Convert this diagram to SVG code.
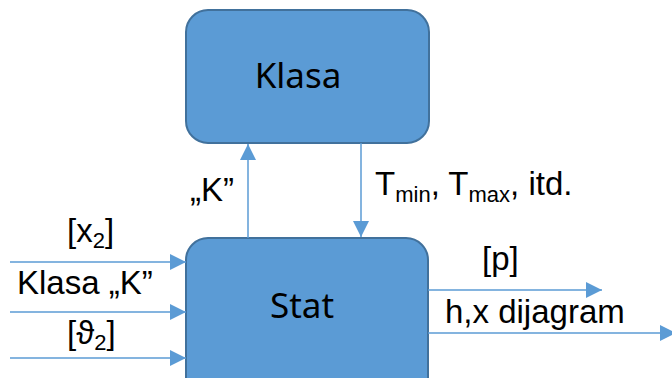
<svg xmlns="http://www.w3.org/2000/svg" width="672" height="378" viewBox="0 0 672 378">
<style>
.box{fill:#5B9BD5;stroke:#41719C;stroke-width:2}
.big{font-family:"Noto Sans","Open Sans",sans-serif;font-size:35px;fill:#000}
.lbl{font-family:"Liberation Sans",Arial,sans-serif;font-size:33px;fill:#000}
.sub{font-size:22px}
.ln{stroke:#5B9BD5;stroke-width:1.5;fill:none;marker-end:url(#ah)}
</style>
<defs>
<marker id="ah" markerWidth="16" markerHeight="16" refX="16" refY="8" orient="auto" markerUnits="userSpaceOnUse">
<path d="M0,0 L16,8 L0,16 Z" fill="#5B9BD5"/>
</marker>
</defs>
<rect width="672" height="378" fill="#fff"/>
<g id="klasa">
<rect class="box" x="186" y="10" width="243" height="133" rx="22"/>
<text class="big" x="298" y="88" text-anchor="middle">Klasa</text>
</g>
<g id="stat">
<rect class="box" x="186" y="238" width="242" height="170" rx="22"/>
<text class="big" x="302" y="318" text-anchor="middle">Stat</text>
</g>
<g id="connectors">
<line class="ln" x1="248" y1="238" x2="248" y2="144"/>
<line class="ln" x1="361" y1="143" x2="361" y2="237"/>
<line class="ln" x1="10" y1="262" x2="186" y2="262"/>
<line class="ln" x1="10" y1="312" x2="186" y2="312"/>
<line class="ln" x1="10" y1="358" x2="186" y2="358"/>
<line class="ln" x1="428" y1="290" x2="602" y2="290"/>
<line class="ln" x1="428" y1="333" x2="676" y2="333"/>
</g>
<g id="labels">
<text class="lbl" x="190" y="201">„K”</text>
<text class="lbl" x="375" y="195">T<tspan class="sub" dy="7">min</tspan><tspan dy="-7">, T</tspan><tspan class="sub" dy="7">max</tspan><tspan dy="-7">, itd.</tspan></text>
<text class="lbl" x="67" y="242">[x<tspan class="sub" dy="6">2</tspan><tspan dy="-6">]</tspan></text>
<text class="lbl" x="17" y="294">Klasa „K”</text>
<text class="lbl" x="67" y="344">[ϑ<tspan class="sub" dy="6">2</tspan><tspan dy="-6">]</tspan></text>
<text class="lbl" x="482" y="270">[p]</text>
<text class="lbl" x="445" y="323">h,x dijagram</text>
</g>
</svg>
